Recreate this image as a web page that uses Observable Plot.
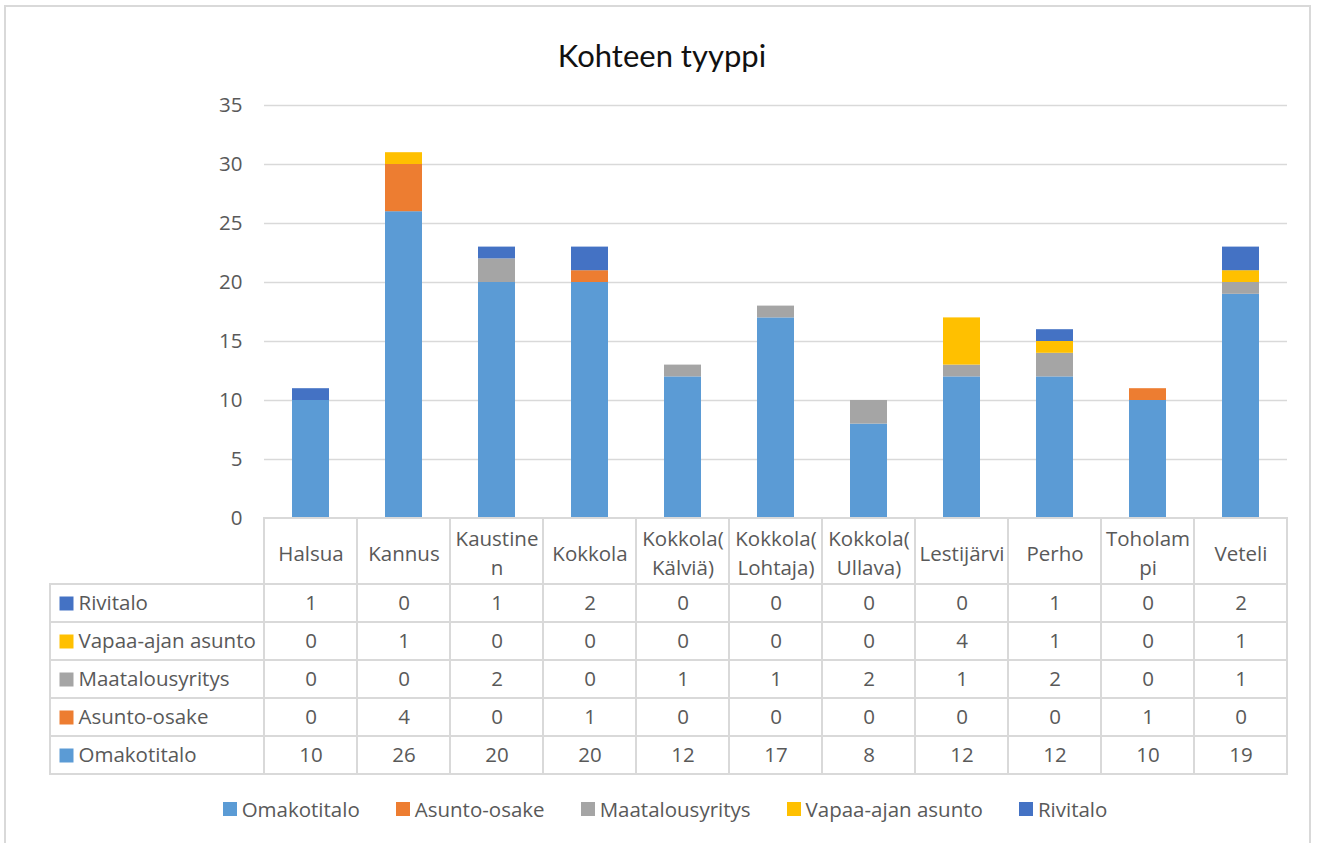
<!DOCTYPE html>
<html>
<head>
<meta charset="utf-8">
<script src="https://cdn.jsdelivr.net/npm/d3@7"></script>
<script src="https://cdn.jsdelivr.net/npm/@observablehq/plot@0.6"></script>
<style>
  body { margin: 0; background: #fff; }
  #wrap { position: relative; width: 1317px; height: 843px; overflow: hidden; font-family: "Open Sans", sans-serif; color: #595959; }
  #border { position: absolute; left: 4px; top: 5px; width: 1307px; height: 900px; border: 2px solid #d9d9d9; box-sizing: border-box; }
  #title { position: absolute; left: 0; width: 1324px; top: 37px; text-align: center; font-family: Lato, sans-serif; font-size: 31px; line-height: 1.2; color: #111; }
  .layer { position: absolute; left: 0; }
  .layer svg { overflow: visible; background: transparent; }
  #legend { position: absolute; top: 795px; left: 0; width: 1330px; display: flex; justify-content: center; gap: 36px; font-size: 20.5px; color: #595959; }
  #legend .item { display: flex; align-items: center; }
  #legend .sw { width: 14px; height: 14px; margin-right: 5px; }
</style>
</head>
<body>
<div id="wrap">
  <div id="border"></div>
  <div id="title">Kohteen tyyppi</div>
  <div id="chart" class="layer" style="top:0"></div>
  <div id="header" class="layer" style="top:518px"></div>
  <div id="rows" class="layer" style="top:584px"></div>
  <div id="legend"></div>
</div>
<script>
const categories = ["Halsua","Kannus","Kaustinen","Kokkola","Kokkola(Kälviä)","Kokkola(Lohtaja)","Kokkola(Ullava)","Lestijärvi","Perho","Toholampi","Veteli"];
const headerLabels = ["Halsua","Kannus","Kaustine\nn","Kokkola","Kokkola(\nKälviä)","Kokkola(\nLohtaja)","Kokkola(\nUllava)","Lestijärvi","Perho","Toholam\npi","Veteli"];
const seriesNames = ["Omakotitalo","Asunto-osake","Maatalousyritys","Vapaa-ajan asunto","Rivitalo"];
const seriesColors = ["#5B9BD5","#ED7D31","#A5A5A5","#FFC000","#4472C4"];
const omakotitalo = [10,26,20,20,12,17,8,12,12,10,19];
const asuntoOsake = [0,4,0,1,0,0,0,0,0,1,0];
const maatalousyritys = [0,0,2,0,1,1,2,1,2,0,1];
const vapaaAjanAsunto = [0,1,0,0,0,0,0,4,1,0,1];
const rivitalo = [1,0,1,2,0,0,0,0,1,0,2];
const yTicks = [0,5,10,15,20,25,30,35];
const tableRowOrder = ["Rivitalo","Vapaa-ajan asunto","Maatalousyritys","Asunto-osake","Omakotitalo"];

const seriesValues = [omakotitalo, asuntoOsake, maatalousyritys, vapaaAjanAsunto, rivitalo];
const data = [];
seriesNames.forEach((s, si) => categories.forEach((c, ci) => data.push({series: s, category: c, value: seriesValues[si][ci]})));
const colorScale = {domain: seriesNames, range: seriesColors};
const FS = 20.5;
const baseStyle = {fontFamily: "Open Sans, sans-serif", fontSize: FS + "px", color: "#595959", background: "transparent", overflow: "visible"};

const chart = Plot.plot({
  width: 1317, height: 519,
  marginTop: 105, marginBottom: 1, marginLeft: 264, marginRight: 30,
  style: baseStyle,
  x: {domain: categories, paddingInner: 0.6, paddingOuter: 0.3, axis: null},
  y: {domain: [0, 35], axis: null},
  color: colorScale,
  marks: [
    Plot.gridY(yTicks, {stroke: "#d9d9d9", strokeOpacity: 1, strokeWidth: 1.5}),
    Plot.axisY(yTicks, {tickSize: 0, tickPadding: 22, fontSize: FS, fill: "#595959", label: null}),
    Plot.barY(data, Plot.stackY({x: "category", y: "value", fill: "series", z: "series"}))
  ]
});
document.getElementById("chart").append(chart);

const header = Plot.plot({
  width: 1317, height: 66,
  marginTop: 0, marginBottom: 0, marginLeft: 264, marginRight: 30,
  style: baseStyle,
  x: {domain: categories, padding: 0, axis: null},
  marks: [
    Plot.cell(categories, {x: d => d, fill: "white", stroke: "#d9d9d9", strokeWidth: 2}),
    Plot.text(categories, {x: d => d, text: (d, i) => headerLabels[i], frameAnchor: "middle", lineHeight: 1.4, fontSize: FS, fill: "#595959"})
  ]
});
document.getElementById("header").append(header);

const tableData = data.slice();
const rowsPlot = Plot.plot({
  width: 1317, height: 191,
  marginTop: 0, marginBottom: 1, marginLeft: 50, marginRight: 30,
  style: baseStyle,
  x: {domain: categories, range: [264, 1287], padding: 0, axis: null},
  y: {domain: tableRowOrder, padding: 0, axis: null},
  color: colorScale,
  marks: [
    Plot.cell(tableRowOrder, {y: d => d, fill: "white", stroke: "#d9d9d9", strokeWidth: 2}),
    Plot.cell(tableData, {x: "category", y: "series", fill: "white", stroke: "#d9d9d9", strokeWidth: 2}),
    Plot.text(tableData, {x: "category", y: "series", text: "value", fontSize: FS, fill: "#595959"}),
    Plot.dot(tableRowOrder, {y: d => d, frameAnchor: "left", dx: 16, symbol: "square", r: 7.9, fill: d => d, stroke: null}),
    Plot.text(tableRowOrder, {y: d => d, text: d => d, frameAnchor: "left", dx: 28, textAnchor: "start", fontSize: FS, fill: "#595959"})
  ]
});
document.getElementById("rows").append(rowsPlot);

const legend = document.getElementById("legend");
seriesNames.forEach((s, i) => {
  const item = document.createElement("div");
  item.className = "item";
  const sw = document.createElement("span");
  sw.className = "sw";
  sw.style.background = seriesColors[i];
  const t = document.createElement("span");
  t.textContent = s;
  item.append(sw, t);
  legend.append(item);
});
</script>
</body>
</html>
